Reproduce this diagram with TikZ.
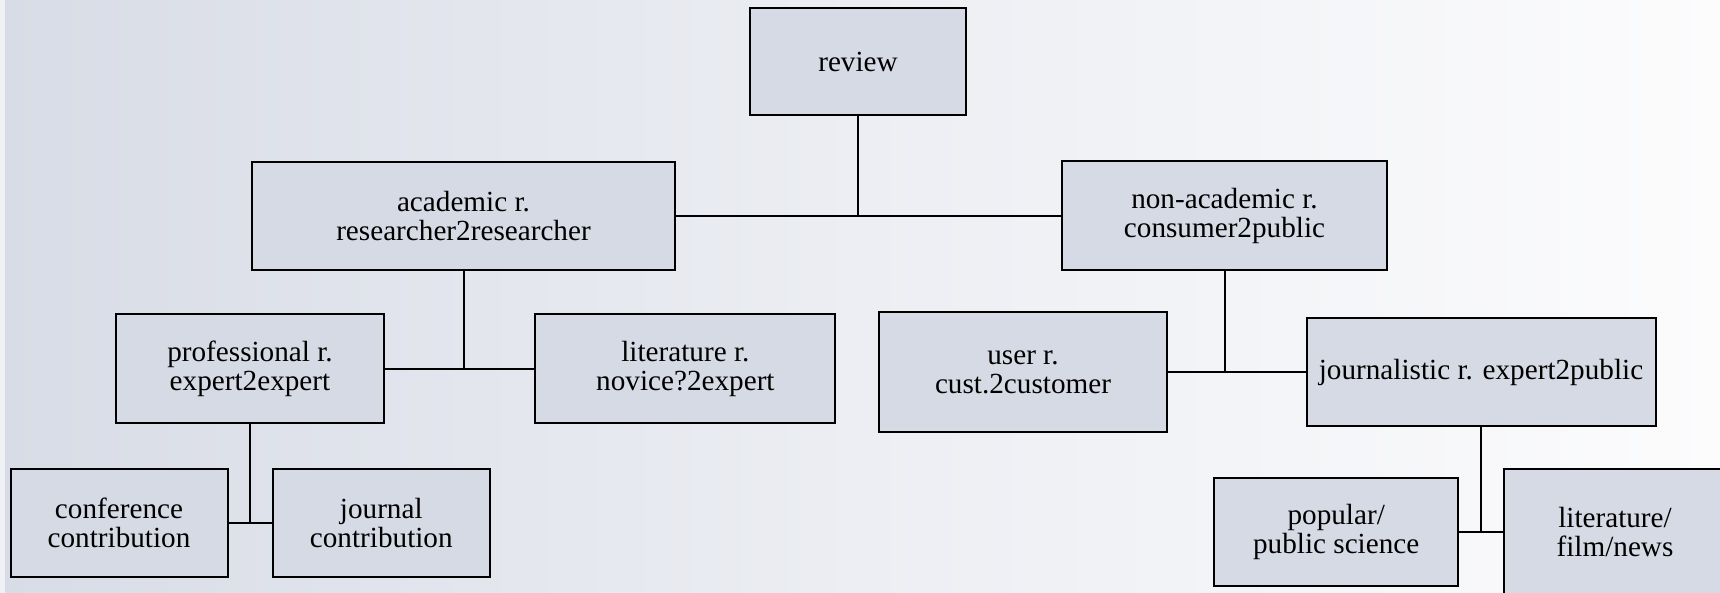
\documentclass[tikz,border=0pt]{standalone}
\usepackage{fontspec}
\setmainfont{Liberation Serif}
\definecolor{revfill}{RGB}{214,218,228}
\definecolor{bgleft}{RGB}{216,220,230}
\definecolor{bgmid}{RGB}{236,238,243}
\definecolor{bgright}{RGB}{252,252,253}
\definecolor{bgstrip}{RGB}{240,241,245}
\tikzset{
    revbox/.style={
           rectangle,
           draw=black, line width=1pt,
           fill=revfill,
           inner sep=2pt,
           align=center,
           font=\fontsize{14.6}{14.5}\selectfont,
           },
    link/.style={draw=black, line width=1pt},
}

\begin{document}
\begin{tikzpicture}[x=0.5pt, y=-0.5pt]
      \useasboundingbox (0,0) rectangle (1720,593);
      \clip (0,0) rectangle (1720,593);
      \shade[left color=bgleft, right color=bgright, middle color=bgmid] (0,0) rectangle (1720,593);
      \fill[bgstrip] (0,0) rectangle (5,593);
      % boxes
      \node[revbox, minimum width=108pt,   minimum height=53.5pt] (R)  at ( 858,   61.5) {review};
      \node[revbox, minimum width=211.5pt, minimum height=54pt]   (A)  at ( 463.5, 216)  {academic r.\\researcher2researcher};
      \node[revbox, minimum width=162.5pt, minimum height=54.5pt] (N)  at (1224.5, 216)  {non-academic r.\\consumer2public};
      \node[revbox, minimum width=134.3pt, minimum height=54.5pt] (P)  at ( 250,   369)  {professional r.\\expert2expert};
      \node[revbox, minimum width=150pt,   minimum height=54.5pt] (L)  at ( 685.4, 369)  {literature r.\\novice?2expert};
      \node[revbox, minimum width=108.5pt, minimum height=54.3pt] (C)  at ( 119,   523)  {conference\\contribution};
      \node[revbox, minimum width=108.7pt, minimum height=54.3pt] (J)  at ( 381.3, 523)  {journal\\contribution};
      \node[revbox, minimum width=144pt,   minimum height=60pt]   (U)  at (1023,   372)  {user r.\\cust.2customer};
      \node[revbox, minimum width=174.5pt, minimum height=54.2pt] (JR) at (1481,   372)  {journalistic r. expert2public};
      \node[revbox, minimum width=121.8pt, minimum height=54.3pt] (PS) at (1336.2, 532)  {popular/\\public science};
      \node[revbox, minimum width=111.5pt, minimum height=63.3pt] (F)  at (1615,   532)  {literature/\\film/news};
      % connectors
      \draw[link] (R.south)  -- (R.south |- A.east);
      \draw[link] (A.east)   -- (N.west);
      \draw[link] (A.south)  -- (A.south |- P.east);
      \draw[link] (P.east)   -- (L.west);
      \draw[link] (P.south)  -- (P.south |- C.east);
      \draw[link] (C.east)   -- (J.west);
      \draw[link] (N.south)  -- (N.south |- U.east);
      \draw[link] (U.east)   -- (JR.west);
      \draw[link] (JR.south) -- (JR.south |- PS.east);
      \draw[link] (PS.east)  -- (F.west);
\end{tikzpicture}
\end{document}
